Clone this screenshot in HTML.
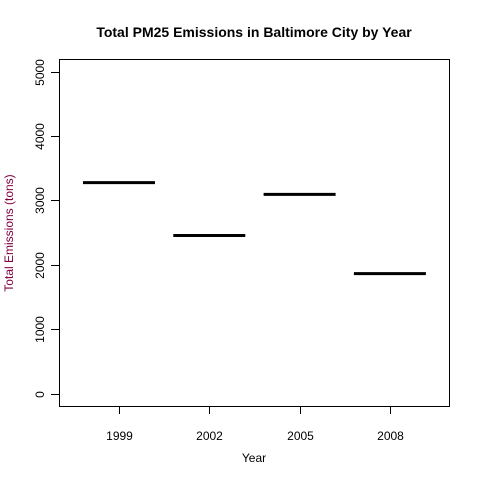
<!DOCTYPE html>
<html><head><meta charset="utf-8"><style>
html,body{margin:0;padding:0;background:#fff;}
svg{display:block;font-family:"Liberation Sans",Arial,sans-serif;}
</style></head><body>
<svg id="chart" width="480" height="480">
<rect x="0" y="0" width="480" height="480" fill="#fff"/>
<text x="254" y="37" text-anchor="middle" font-size="14" font-weight="bold">Total PM25 Emissions in Baltimore City by Year</text>
<text x="254" y="462" text-anchor="middle" font-size="12">Year</text>
<text transform="translate(13,233) rotate(-90)" text-anchor="middle" font-size="12" fill="#800040">Total Emissions (tons)</text>
<rect x="59.5" y="59.5" width="390" height="347" fill="none" stroke="#000" stroke-width="1"/>
<g id="yaxis"></g><g id="xaxis"></g><g id="marks"></g>
</svg>
<script>
const years = ["1999","2002","2005","2008"];
const emissions = [3274.18, 2453.916, 3091.354, 1862.282];
const yTicks = [0,1000,2000,3000,4000,5000];
const ns="http://www.w3.org/2000/svg";
function yScale(v){return 393.5 - v*0.0644;}
function xScale(i){return 119 + i*90.3;}
function mk(t,a,p){const e=document.createElementNS(ns,t);for(const k in a)e.setAttribute(k,a[k]);p.appendChild(e);return e;}
const ya=document.getElementById('yaxis'),xa=document.getElementById('xaxis'),mg=document.getElementById('marks');
yTicks.forEach(v=>{
  const y=Math.round(yScale(v))+0.5;
  const l=mk('line',{x1:51,x2:59,y1:y,y2:y,stroke:'#000'},ya);
  
  
  const t=mk('text',{transform:`translate(44,${y}) rotate(-90)`,'text-anchor':'middle','font-size':12},ya);
  t.textContent=v;
  
  
});
years.forEach((yr,i)=>{
  const x=Math.round(xScale(i))+0.5;
  const l=mk('line',{x1:x,x2:x,y1:407,y2:414,stroke:'#000'},xa);
  
  
  const t=mk('text',{x:x,y:440,'text-anchor':'middle','font-size':12},xa);
  t.textContent=yr;
  
  
  const y=yScale(emissions[i]);
  const b=mk('line',{x1:xScale(i)-36,x2:xScale(i)+36,y1:y,y2:y,stroke:'#000','stroke-width':3},mg);
  
  
});
</script>
</body></html>
